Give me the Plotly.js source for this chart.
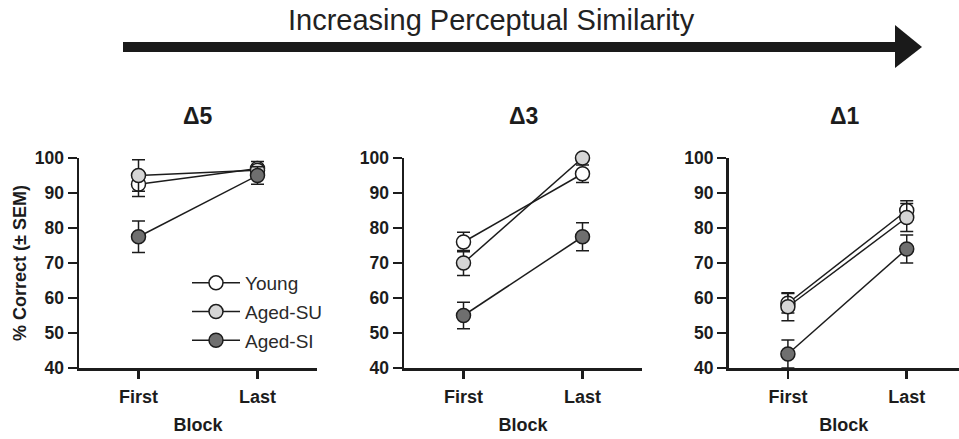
<!DOCTYPE html>
<html>
<head>
<meta charset="utf-8">
<script src="https://cdn.plot.ly/plotly-3.0.1.min.js"></script>
<style>html,body{margin:0;padding:0;background:#fff;}#chart{width:959px;height:439px;}</style>
</head>
<body>
<div id="chart"></div>
<script>
// ---- data ----
var blocks = ['First', 'Last'];
var groups = ['Young', 'Aged-SU', 'Aged-SI'];
var panelTitles = ['Δ5', 'Δ3', 'Δ1'];
var yTicks = [40, 50, 60, 70, 80, 90, 100];
var headline = 'Increasing Perceptual Similarity';

// Δ5
var d5_young = [92.5, 97.0];   var d5_young_err = [3.5, 2.0];
var d5_agedSU = [95.0, 96.5];  var d5_agedSU_err = [4.5, 1.5];
var d5_agedSI = [77.5, 95.0];  var d5_agedSI_err = [4.5, 2.5];
// Δ3
var d3_young = [76.0, 95.5];   var d3_young_err = [2.8, 2.5];
var d3_agedSU = [70.0, 100.0]; var d3_agedSU_err = [3.6, 0];
var d3_agedSI = [55.0, 77.5];  var d3_agedSI_err = [3.8, 4.0];
// Δ1
var d1_young = [58.5, 85.0];   var d1_young_err = [2.8, 2.8];
var d1_agedSU = [57.5, 83.0];  var d1_agedSU_err = [4.0, 4.0];
var d1_agedSI = [44.0, 74.0];  var d1_agedSI_err = [4.0, 4.0];

var panels = [
  [[d5_young, d5_young_err], [d5_agedSU, d5_agedSU_err], [d5_agedSI, d5_agedSI_err]],
  [[d3_young, d3_young_err], [d3_agedSU, d3_agedSU_err], [d3_agedSI, d3_agedSI_err]],
  [[d1_young, d1_young_err], [d1_agedSU, d1_agedSU_err], [d1_agedSI, d1_agedSI_err]]
];

// ---- styles ----
var W = 959, H = 439;
var FONT = 'Liberation Sans, Arial, Helvetica, sans-serif';
var INK = '#1c1c1c';
var fills = ['#ffffff', '#d6d6d6', '#6f6f6f'];
function px(x) { return x / W; }
function py(y) { return 1 - y / H; }

var xDomains = [[px(79), px(317)], [px(404), px(642)], [px(728.5), 1]];
var xRanges = [[-0.5, 1.5], [-0.5, 1.5], [-0.5, 1.44]];
var yDomain = [py(368), py(158)];
var titleX = [198, 523, 845];

var traces = [];
panels.forEach(function (panel, p) {
  var sfx = p === 0 ? '' : String(p + 1);
  panel.forEach(function (series, g) {
    traces.push({
      type: 'scatter', mode: 'lines+markers',
      x: blocks, y: series[0],
      xaxis: 'x' + sfx, yaxis: 'y' + sfx,
      name: groups[g], legendgroup: groups[g],
      showlegend: p === 0,
      cliponaxis: false,
      line: {color: INK, width: 1.5},
      marker: {size: 14, color: fills[g], line: {color: INK, width: 1.5}},
      error_y: {type: 'data', array: series[1], visible: true, color: INK, thickness: 1.5, width: 6.5}
    });
  });
});

var layout = {
  width: W, height: H,
  margin: {l: 0, r: 0, t: 0, b: 0},
  paper_bgcolor: '#fff', plot_bgcolor: 'rgba(0,0,0,0)',
  font: {family: FONT, color: INK},
  showlegend: true,
  legend: {
    x: px(187), y: py(264), xanchor: 'left', yanchor: 'top',
    bgcolor: 'rgba(0,0,0,0)', borderwidth: 0,
    font: {size: 19, color: '#2a2a2a', family: FONT},
    itemwidth: 48, tracegroupgap: 1, traceorder: 'grouped'
  },
  annotations: [],
  shapes: [
    {type: 'rect', xref: 'paper', yref: 'paper', x0: px(123), x1: px(897), y0: py(52), y1: py(42),
     fillcolor: '#1a1a1a', line: {width: 0}},
    {type: 'path', xref: 'paper', yref: 'paper',
     path: 'M ' + px(895) + ' ' + py(25) + ' L ' + px(922) + ' ' + py(47) + ' L ' + px(895) + ' ' + py(68) + ' Z',
     fillcolor: '#1a1a1a', line: {width: 0}}
  ]
};

layout.annotations.push({
  xref: 'paper', yref: 'paper', x: px(491.5), y: py(20), xanchor: 'center', yanchor: 'middle',
  text: headline, showarrow: false, font: {size: 29, family: FONT, color: '#222'}
});

for (var p = 0; p < 3; p++) {
  var sfx = p === 0 ? '' : String(p + 1);
  layout['xaxis' + sfx] = {
    domain: xDomains[p], range: xRanges[p], type: 'category',
    anchor: 'y' + sfx,
    showline: true, linewidth: 2.5, linecolor: INK,
    ticks: 'outside', ticklen: 8, tickwidth: 2.5, tickcolor: INK,
    ticklabelstandoff: 3,
    showgrid: false, zeroline: false,
    tickfont: {size: 18, family: FONT, weight: 'bold', color: INK},
    title: {text: 'Block', font: {size: 18, family: FONT, weight: 'bold', color: INK}, standoff: 13},
    fixedrange: true
  };
  layout['yaxis' + sfx] = {
    domain: yDomain, range: [40, 100], anchor: 'x' + sfx,
    tickvals: yTicks, ticktext: yTicks.map(String),
    showline: true, linewidth: 2.5, linecolor: INK,
    ticks: 'outside', ticklen: 9, tickwidth: 2.5, tickcolor: INK,
    showgrid: false, zeroline: false,
    tickfont: {size: 17.5, family: FONT, weight: 'bold', color: INK},
    title: p === 0 ? {text: '% Correct (± SEM)', font: {size: 18, family: FONT, weight: 'bold', color: INK}, standoff: 4} : {text: ''},
    fixedrange: true
  };
  layout.annotations.push({
    xref: 'paper', yref: 'paper', x: px(titleX[p]), y: py(116),
    xanchor: 'center', yanchor: 'middle', showarrow: false,
    text: panelTitles[p], font: {size: 23, family: FONT, weight: 'bold', color: INK}
  });
}

Plotly.newPlot('chart', traces, layout, {displayModeBar: false, staticPlot: true});
</script>
</body>
</html>
